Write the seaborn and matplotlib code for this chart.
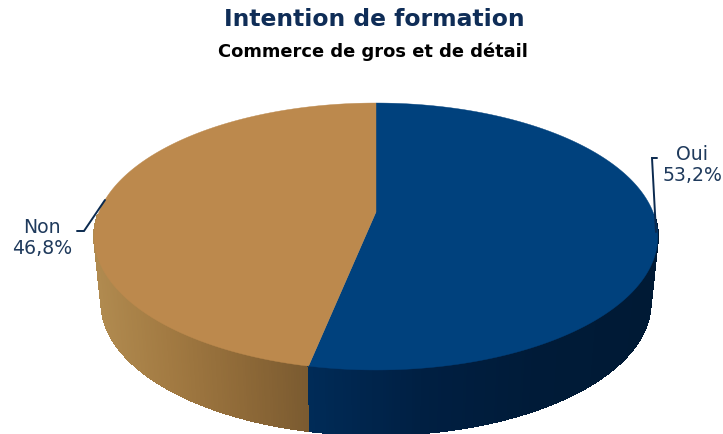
import numpy as np
import matplotlib
matplotlib.use("Agg")
import matplotlib.pyplot as plt
import seaborn as sns

# Survey result
categories = ["Oui", "Non"]
shares = [53.2, 46.8]
value_labels = ["53,2%", "46,8%"]
top_colors = ["#00417D", "#BC894D"]

TITLE = "Intention de formation"
SUBTITLE = "Commerce de gros et de détail"

sns.set_theme(style="white")
plt.rcParams["font.family"] = ["DejaVu Sans"]

fig = plt.figure(figsize=(7.23, 4.35), dpi=100, facecolor="white")
ax = fig.add_axes([0, 0, 1, 1])
ax.set_xlim(0, 723)
ax.set_ylim(435, 0)
ax.axis("off")

# Perspective projection of a unit disc onto the canvas (far edge at the top)
CX, TILT = 376.0, -0.1835


def project(theta, half_width, slope, centre_y):
    u, v = np.sin(theta), -np.cos(theta)
    w = 1 + TILT * v
    return CX + half_width * u / w, (slope * v + centre_y) / w


TOP = dict(half_width=277.0, slope=89.9, centre_y=213.0)
BOTTOM = dict(half_width=270.0, slope=77.0, centre_y=279.0)

# Shading of the rim, dark towards the right of each slice
rim_ramps = [
    sns.blend_palette(["#002B57", "#001F42", "#001B38", "#001A35"], 256),
    sns.blend_palette(["#B08A4F", "#A27A42", "#8F6A38", "#7A5A30"], 256),
]
rim_spans = [(310.0, 650.0), (98.0, 310.0)]

edges = np.cumsum([0.0] + shares) / sum(shares) * 2 * np.pi

# Rim quads on the near side only, painted from the far side to the near side
quads = []
for i, (start, stop) in enumerate(zip(edges[:-1], edges[1:])):
    steps = int(np.degrees(stop - start) * 2)
    angles = np.linspace(start, stop, steps + 1)
    for a0, a1 in zip(angles[:-1], angles[1:]):
        depth = -np.cos((a0 + a1) / 2)
        if depth > 0.02:
            quads.append((depth, i, a0, a1))
for _, i, a0, a1 in sorted(quads, key=lambda q: q[0]):
    pair = np.array([a0, a1])
    xt, yt = project(pair, **TOP)
    xb, yb = project(pair[::-1], **BOTTOM)
    lo, hi = rim_spans[i]
    pos = np.clip((xt.mean() - lo) / (hi - lo), 0, 1)
    color = rim_ramps[i][int(pos * 255)]
    ax.fill(np.r_[xt, xb], np.r_[yt, yb], color=color, lw=0.8, antialiased=False, zorder=1)

# Top face
for i, (start, stop) in enumerate(zip(edges[:-1], edges[1:])):
    angles = np.linspace(start, stop, 400)
    x, y = project(angles, **TOP)
    ax.fill(np.r_[CX, x], np.r_[TOP["centre_y"], y], color=top_colors[i], lw=0.3, zorder=2)

# Leader lines and data labels
leader_color = "#0B2A4F"
text_color = "#1F3A5C"
ax.plot([656, 652, 657], [233, 159, 159], color=leader_color, lw=1.4, zorder=3, solid_joinstyle="miter")
ax.plot([105, 84, 77], [201, 232, 232], color=leader_color, lw=1.4, zorder=3, solid_joinstyle="miter")
ax.text(692, 155, categories[0], ha="center", va="center", fontsize=13.6, color=text_color)
ax.text(692, 176, value_labels[0], ha="center", va="center", fontsize=13.6, color=text_color)
ax.text(42, 228, categories[1], ha="center", va="center", fontsize=13.6, color=text_color)
ax.text(42, 249, value_labels[1], ha="center", va="center", fontsize=13.6, color=text_color)

# Headings
ax.text(374, 19, TITLE, ha="center", va="center", fontsize=16.9, fontweight="bold", color="#0F2D57")
ax.text(373, 52, SUBTITLE, ha="center", va="center", fontsize=12.9, fontweight="bold", color="#000000")

fig.savefig("out.png", dpi=100, facecolor="white")
